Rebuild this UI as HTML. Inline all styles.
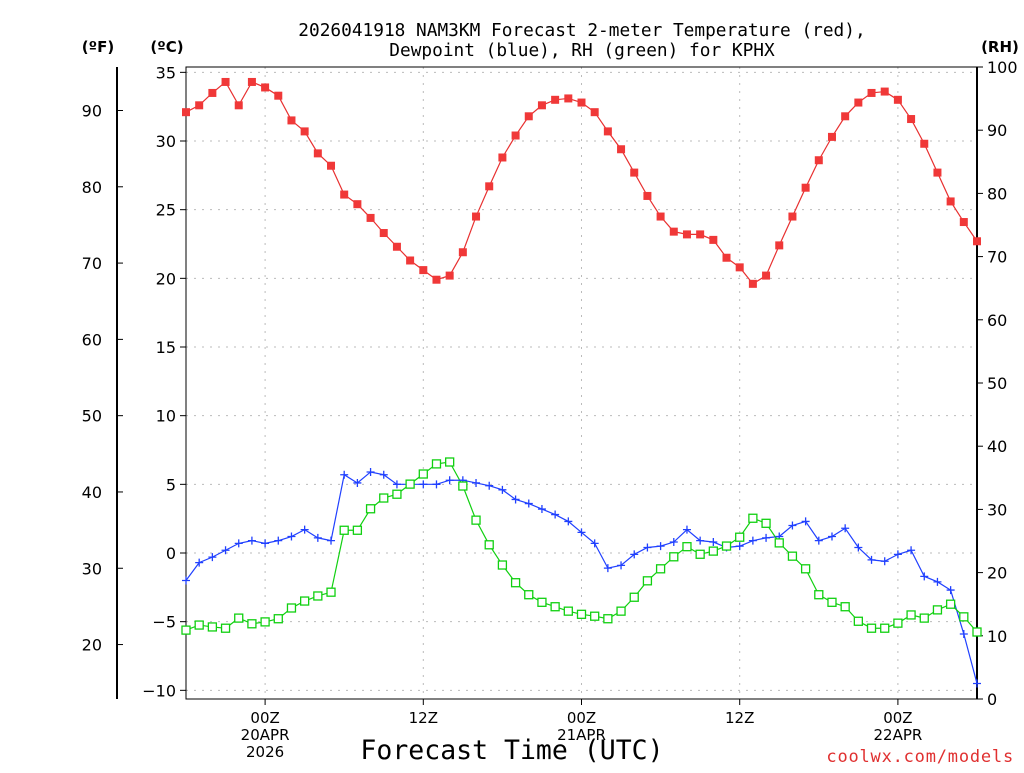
<!DOCTYPE html>
<html><head><meta charset="utf-8"><style>
body{margin:0;background:#fff}
svg text{font-family:"DejaVu Sans","Liberation Sans",sans-serif;fill:#000}
svg text.mono{font-family:"DejaVu Sans Mono","Liberation Mono",monospace}
</style></head><body>
<svg id="chart" width="1024" height="768" xmlns="http://www.w3.org/2000/svg">
<g id="grid"></g><g id="axes"></g><g id="series"></g>
<text class="mono" x="582" y="36" text-anchor="middle" font-size="17.8">2026041918 NAM3KM Forecast 2-meter Temperature (red),</text>
<text class="mono" x="582" y="56" text-anchor="middle" font-size="17.8">Dewpoint (blue), RH (green) for KPHX</text>
<text x="98" y="52" text-anchor="middle" font-size="15" font-weight="bold">(ºF)</text>
<text x="167" y="52" text-anchor="middle" font-size="15" font-weight="bold">(ºC)</text>
<text x="1000" y="52" text-anchor="middle" font-size="15" font-weight="bold">(RH)</text>
<text class="mono" x="512" y="759" text-anchor="middle" font-size="26.5">Forecast Time (UTC)</text>
<text class="mono" x="1014" y="762" text-anchor="end" font-size="17" letter-spacing="0.8" style="fill:#e03030">coolwx.com/models</text>
</svg>
<script>
const temps=[32.1,32.6,33.5,34.3,32.6,34.3,33.9,33.3,31.5,30.7,29.1,28.2,26.1,25.4,24.4,23.3,22.3,21.3,20.6,19.9,20.2,21.9,24.5,26.7,28.8,30.4,31.8,32.6,33.0,33.1,32.8,32.1,30.7,29.4,27.7,26.0,24.5,23.4,23.2,23.2,22.8,21.5,20.8,19.6,20.2,22.4,24.5,26.6,28.6,30.3,31.8,32.8,33.5,33.6,33.0,31.6,29.8,27.7,25.6,24.1,22.7];
const dewpoints=[-2.0,-0.7,-0.3,0.2,0.7,0.9,0.7,0.9,1.2,1.7,1.1,0.9,5.7,5.1,5.9,5.7,5.0,5.0,5.0,5.0,5.3,5.3,5.1,4.9,4.6,3.9,3.6,3.2,2.8,2.3,1.5,0.7,-1.1,-0.9,-0.1,0.4,0.5,0.8,1.7,0.9,0.8,0.4,0.5,0.9,1.1,1.2,2.0,2.3,0.9,1.2,1.8,0.4,-0.5,-0.6,-0.1,0.2,-1.7,-2.1,-2.7,-5.9,-9.5];
const rh=[10.9,11.7,11.4,11.2,12.8,11.9,12.2,12.7,14.4,15.5,16.3,16.9,26.7,26.7,30.1,31.8,32.4,34.0,35.6,37.2,37.5,33.7,28.3,24.4,21.2,18.4,16.5,15.3,14.6,13.9,13.4,13.1,12.7,13.9,16.1,18.7,20.6,22.5,24.1,22.9,23.4,24.2,25.6,28.6,27.8,24.7,22.6,20.6,16.5,15.3,14.6,12.3,11.2,11.2,12.0,13.3,12.8,14.1,15.0,13.0,10.6];
const cTicks=[35,30,25,20,15,10,5,0,-5,-10];
const fTicks=[90,80,70,60,50,40,30,20];
const rhTicks=[100,90,80,70,60,50,40,30,20,10,0];
const xTickHours=[6,18,30,42,54];
const xTickLabels=[["00Z","20APR","2026"],["12Z"],["00Z","21APR"],["12Z"],["00Z","22APR"]];
const L=186,R=977,T=67,B=699,NH=60;
const xs=h=>L+(R-L)*h/NH;
const yC=c=>553-c*13.733;
const yF=f=>yC((f-32)*5/9);
const yR=r=>B-(B-T)*r/100;
const NS="http://www.w3.org/2000/svg";
function mk(tag,attrs,parent){const e=document.createElementNS(NS,tag);for(const k in attrs)e.setAttribute(k,attrs[k]);parent.appendChild(e);return e;}
const grid=document.getElementById('grid'),axes=document.getElementById('axes'),ser=document.getElementById('series');
cTicks.forEach(c=>{const g=mk('line',{x1:L,x2:R,y1:yC(c),y2:yC(c),stroke:'#bbb','stroke-dasharray':'2,6'},grid);

const t=mk('text',{x:L-10,y:yC(c)+6,'text-anchor':'end','font-size':'16'},axes);t.textContent=c<0?'\u2212'+(-c):c;

mk('line',{x1:L-6,x2:L,y1:yC(c),y2:yC(c),stroke:'#000'},axes);});
xTickHours.forEach((h,i)=>{const g=mk('line',{x1:xs(h),x2:xs(h),y1:T,y2:B,stroke:'#bbb','stroke-dasharray':'2,6'},grid);

mk('line',{x1:xs(h),x2:xs(h),y1:B,y2:B+6,stroke:'#000'},axes);
xTickLabels[i].forEach((s,j)=>{const t=mk('text',{x:xs(h),y:723+j*17,'text-anchor':'middle','font-size':'15'},axes);t.textContent=s;
});});
const fl=mk('line',{x1:117,x2:117,y1:67,y2:699,stroke:'#000','stroke-width':2},axes);

fTicks.forEach(f=>{mk('line',{x1:117,x2:123,y1:yF(f),y2:yF(f),stroke:'#000'},axes);
const t=mk('text',{x:102,y:yF(f)+6,'text-anchor':'end','font-size':'16'},axes);t.textContent=f;
});
rhTicks.forEach(r=>{mk('line',{x1:R,x2:R+6,y1:yR(r),y2:yR(r),stroke:'#000'},axes);
const t=mk('text',{x:R+10,y:yR(r)+6,'text-anchor':'start','font-size':'16'},axes);t.textContent=r;
});
const fr=mk('rect',{x:L,y:T,width:R-L,height:B-T,fill:'none',stroke:'#000','stroke-width':1},axes);

mk('line',{x1:R,x2:R,y1:T,y2:B,stroke:'#000','stroke-width':2},axes);
function line(vals,yf,col,name){const p=mk('polyline',{points:vals.map((v,i)=>xs(i)+','+yf(v)).join(' '),fill:'none',stroke:col,'stroke-width':1.2},ser);
}
line(temps,yC,'#e83030','temperature-line');
line(dewpoints,yC,'#2040ff','dewpoint-line');
line(rh,yR,'#10d010','rh-line');
temps.forEach((v,i)=>{const m=mk('rect',{x:xs(i)-4,y:yC(v)-4,width:8,height:8,fill:'#f03838'},ser);
});
dewpoints.forEach((v,i)=>{const m=mk('path',{d:`M${xs(i)-4},${yC(v)}h8M${xs(i)},${yC(v)-4}v8`,stroke:'#2040ff','stroke-width':1.3},ser);
});
rh.forEach((v,i)=>{const m=mk('rect',{x:xs(i)-4,y:yR(v)-4,width:8,height:8,fill:'#fff',stroke:'#10d010','stroke-width':1.3},ser);
});
</script>
</body></html>
